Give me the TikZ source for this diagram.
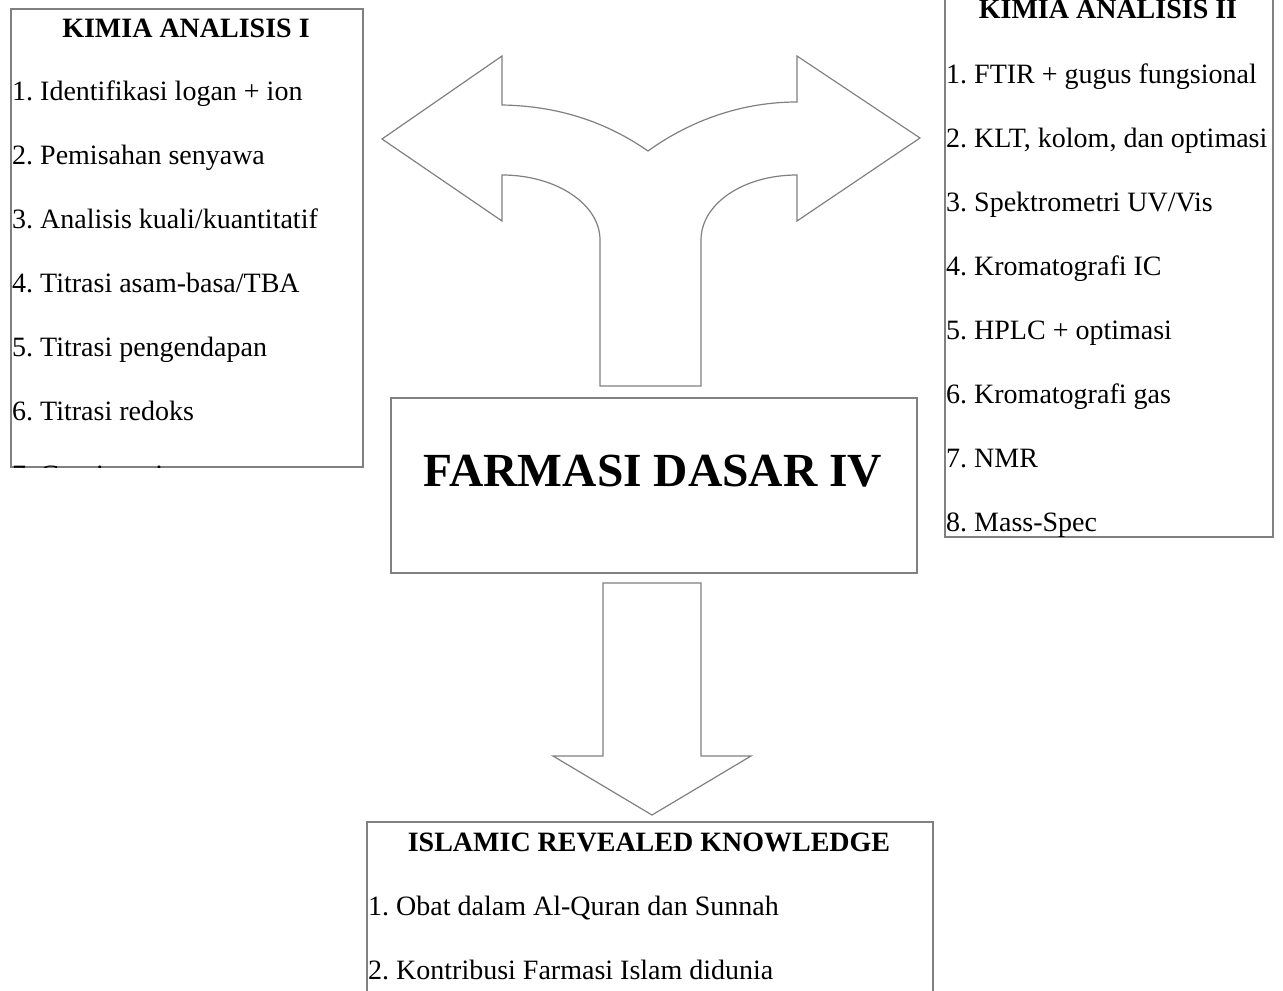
\documentclass[tikz,border=0pt]{standalone}
\usepackage{fontspec}
\setmainfont{Liberation Serif}
\usetikzlibrary{positioning}
\definecolor{edgeGray}{HTML}{808080}
\frenchspacing

\begin{document}
\begin{tikzpicture}[x=1pt, y=-1pt, font=\fontsize{28}{34}\selectfont,
  listbox/.style={draw=edgeGray, line width=1.5pt, anchor=north west, inner sep=0pt},
  item/.style={anchor=base west, inner sep=0pt},
  heading/.style={anchor=base, inner sep=0pt, font=\fontsize{28}{34}\selectfont\bfseries},
  blockarrow/.style={draw=edgeGray, line width=1.2pt, line join=miter}]
  \useasboundingbox (0,0) rectangle (1283,991);
  \clip (0,0) rectangle (1283,991);

  % left list
  \node[listbox, minimum width=352, minimum height=458] (kaOne) at (10,8) {};
  \begin{scope}
    \clip (kaOne.north west) rectangle (kaOne.south east);
    \node[heading] (kaOneTitle) at (186,37) {KIMIA ANALISIS I};
    \foreach \txt [count=\i] in {Identifikasi logan + ion, Pemisahan senyawa,
        Analisis kuali/kuantitatif, Titrasi asam-basa/TBA, Titrasi pengendapan,
        Titrasi redoks, Gravimetri}
      \node[item] (kaOne-\i) at (12,{100+64*(\i-1)}) {\i. \txt};
  \end{scope}

  % right list
  \node[listbox, minimum width=328, minimum height=566] (kaTwo) at (944,-30) {};
  \begin{scope}
    \clip (kaTwo.north west) rectangle (kaTwo.south east);
    \node[heading] (kaTwoTitle) at (1108,18) {KIMIA ANALISIS II};
    \foreach \txt [count=\i] in {FTIR + gugus fungsional, {KLT, kolom, dan optimasi},
        Spektrometri UV/Vis, Kromatografi IC, HPLC + optimasi, Kromatografi gas,
        NMR, Mass-Spec}
      \node[item] (kaTwo-\i) at (946,{83+64*(\i-1)}) {\i. \txt};
  \end{scope}

  % centre
  \node[listbox, minimum width=526, minimum height=175] (farmasi) at (390,397) {};
  \node[heading, font=\fontsize{47.5}{56}\selectfont\bfseries] (farmasiTitle) at (653,486)
    {FARMASI DASAR IV};

  % bottom list
  \node[listbox, minimum width=566, minimum height=200] (irk) at (366,821) {};
  \node[heading] (irkTitle) at (649,851) {ISLAMIC REVEALED KNOWLEDGE};
  \foreach \txt [count=\i] in {Obat dalam Al-Quran dan Sunnah,
      Kontribusi Farmasi Islam didunia}
    \node[item] (irk-\i) at (368,{915+64*(\i-1)}) {\i. \txt};

  % split arrow
  \draw[blockarrow] (382,139) -- (502,56) -- (502,105)
    .. controls (565,106) and (612,126) .. (648,151)
    .. controls (684,125) and (735,102) .. (797,102)
    -- (797,56) -- (920,138) -- (797,221) -- (797,175)
    .. controls (743,175) and (701,204) .. (701,240)
    -- (701,386) -- (600,386) -- (600,240)
    .. controls (600,204) and (556,175) .. (502,175)
    -- (502,221) -- cycle;

  % down arrow
  \draw[blockarrow] (603,583) -- (701,583) -- (701,756) -- (751,756)
    -- (652,815) -- (553,756) -- (603,756) -- cycle;
\end{tikzpicture}
\end{document}
